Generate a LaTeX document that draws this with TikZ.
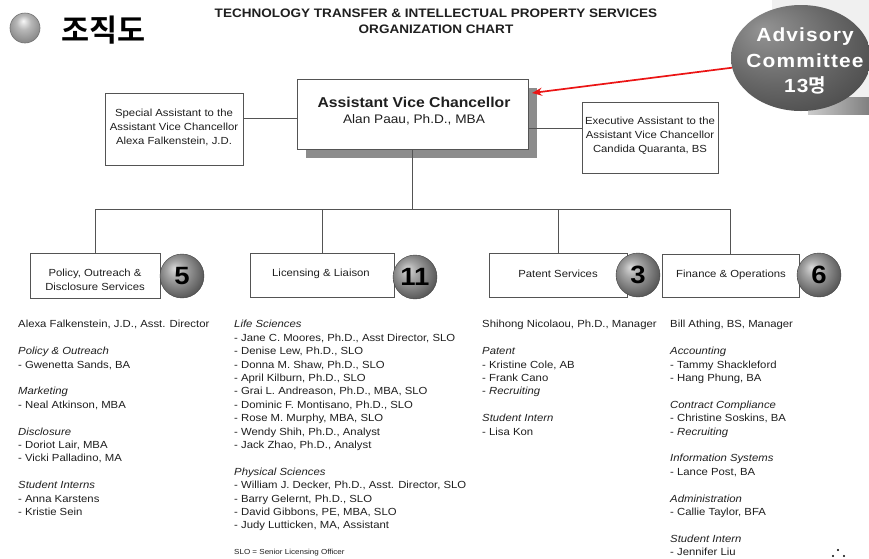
\documentclass[tikz,border=0pt]{standalone}
\usepackage{fontspec}
\setmainfont{Liberation Sans}[FakeStretch=1.1]
\newfontfamily\krfont{Noto Sans CJK KR}[BoldFont={Noto Sans CJK KR Bold}]
\usetikzlibrary{shapes.geometric,arrows.meta,shadows}
\definecolor{boxline}{gray}{0.33}
\definecolor{txt}{gray}{0.12}
\definecolor{arrred}{RGB}{235,20,20}
\pgfdeclareradialshading{advshade}{\pgfpoint{-14bp}{14bp}}{color(0bp)=(black!42); color(22bp)=(black!60); color(42bp)=(black!75); color(60bp)=(black!80)}
\pgfdeclareradialshading{sphshade}{\pgfpoint{-9bp}{9bp}}{color(0bp)=(black!15); color(10bp)=(black!35); color(28bp)=(black!64); color(42bp)=(black!80); color(50bp)=(black!85)}
\pgfdeclareradialshading{bulletshade}{\pgfpoint{-3bp}{12bp}}{color(0bp)=(black!3); color(12bp)=(black!28); color(30bp)=(black!48); color(42bp)=(black!62); color(50bp)=(black!70)}
\newcommand\bodyfnt{\fontsize{10.3}{13.4}\selectfont}
\newcommand\boxfnt{\fontsize{10.3}{14}\selectfont}
\newcommand\gap{\\[13.4pt]}
\begin{document}
\begin{tikzpicture}[x=1pt,y=-1pt,
  box/.style={draw=boxline, line width=0.9pt, fill=white, inner sep=0pt},
  conn/.style={draw=boxline, line width=0.9pt},
  lbl/.style={inner sep=0pt, align=center, font=\boxfnt, text=txt},
  num/.style={circle, minimum size=44pt, inner sep=0pt, shading=sphshade, draw=black!75, line width=0.4pt, font={\bfseries\fontsize{25}{25}\selectfont}, text=black},
  col/.style={anchor=north west, inner sep=0pt, align=left, font=\bodyfnt, text=txt},
  arrred/.style={draw=arrred, line width=1.7pt, -{Stealth[length=10pt,width=8pt]}}]
\useasboundingbox (0,0) rectangle (869,558);
\fill[white] (0,0) rectangle (869,558);

% heading
\node (bullet) [circle, minimum size=30pt, inner sep=0pt, shading=bulletshade, draw=black!55, line width=0.6pt] at (25,28) {};
\node (kr) [inner sep=0pt, font={\krfont\bfseries\fontsize{30.5}{34}\selectfont}, text=black] at (103.5,30) {조직도};
\node (hdr) [align=center, inner sep=0pt, font={\bfseries\fontsize{12.3}{16}\selectfont}, text=txt] at (436,21) {TECHNOLOGY TRANSFER \& INTELLECTUAL PROPERTY SERVICES\\ORGANIZATION CHART};

% advisory committee
\fill[black!6] (772,0) rectangle (869,97);
\shade[left color=black!20, right color=black!50] (808,97) rectangle (869,114);
\node (adv) [ellipse, minimum width=140pt, minimum height=106pt, inner sep=0pt, shading=advshade] at (801,58) {};
\node (advt) [inner sep=0pt, align=center, text=white, font={\bfseries\fontsize{19}{25.5}\selectfont\addfontfeature{LetterSpace=6}}] at (805,61) {Advisory\\Committee\\13{\krfont\bfseries 명}};

% top level
\node (avc) [box, minimum width=231pt, minimum height=70pt, drop shadow={shadow xshift=9pt, shadow yshift=-9pt, fill=black!45, opacity=1}] at (412.5,114) {};
\node (avct1) [inner sep=0pt, anchor=base, font={\bfseries\fontsize{14.3}{17}\selectfont}, text=txt] at (414,107) {Assistant Vice Chancellor};
\node (avct2) [inner sep=0pt, anchor=base, font={\fontsize{12.4}{17}\selectfont}, text=txt] at (414,123.5) {Alan Paau, Ph.D., MBA};

\node (spec) [box, minimum width=138pt, minimum height=72pt] at (174,129) {};
\node (spect) [lbl] at (174,127) {Special Assistant to the\\Assistant Vice Chancellor\\Alexa Falkenstein, J.D.};
\node (exec) [box, minimum width=136pt, minimum height=71pt] at (650,137.5) {};
\node (exect) [lbl] at (650,136) {Executive Assistant to the\\Assistant Vice Chancellor\\Candida Quaranta, BS};

\coordinate (sl) at ([yshift=11pt]spec.east);
\draw[conn] (sl) -- (sl -| avc.west);
\coordinate (er) at ([yshift=9.5pt]exec.west);
\draw[conn] (er) -- (er -| avc.east);

% departments
\node (pol) [box, minimum width=130pt, minimum height=45pt] at (95,275.5) {};
\node (polt) [lbl] at (95,280) {Policy, Outreach \&\\Disclosure Services};
\node (lic) [box, minimum width=144pt, minimum height=44pt] at (322,275) {};
\node (lict) [lbl] at (321,274) {Licensing \& Liaison};
\node (pat) [box, minimum width=138pt, minimum height=44pt] at (558,275) {};
\node (patt) [lbl] at (558,274) {Patent Services};
\node (fin) [box, minimum width=137pt, minimum height=43pt] at (730.5,275.5) {};
\node (fint) [lbl] at (731,275) {Finance \& Operations};

\coordinate (busy) at (0,209);
\draw[conn] (avc.south) -- (avc.south |- busy);
\draw[conn] (pol.north |- busy) -- (fin.north |- busy);
\foreach \d in {pol,lic,pat,fin} \draw[conn] (\d.north) -- (\d.north |- busy);

\node (n5) [num] at (182,276) {5};
\node (n11) [num] at (415,277) {11};
\node (n3) [num] at (638,275) {3};
\node (n6) [num] at (819,275) {6};

% red arrow
\coordinate (tip) at (532,93);
\draw[arrred] (adv.188) -- (tip);

% staff lists
\node (c1) [col] at (18,318.3) {\strut Alexa Falkenstein, J.D., Asst. Director\gap
\textit{Policy \& Outreach}\\
- Gwenetta Sands, BA\gap
\textit{Marketing}\\
- Neal Atkinson, MBA\gap
\textit{Disclosure}\\
- Doriot Lair, MBA\\
- Vicki Palladino, MA\gap
\textit{Student Interns}\\
- Anna Karstens\\
- Kristie Sein};

\node (c2) [col] at (234,318.3) {\strut\textit{Life Sciences}\\
- Jane C. Moores, Ph.D., Asst Director, SLO\\
- Denise Lew, Ph.D., SLO\\
- Donna M. Shaw, Ph.D., SLO\\
- April Kilburn, Ph.D., SLO\\
- Grai L. Andreason, Ph.D., MBA, SLO\\
- Dominic F. Montisano, Ph.D., SLO\\
- Rose M. Murphy, MBA, SLO\\
- Wendy Shih, Ph.D., Analyst\\
- Jack Zhao, Ph.D., Analyst\gap
\textit{Physical Sciences}\\
- William J. Decker, Ph.D., Asst. Director, SLO\\
- Barry Gelernt, Ph.D., SLO\\
- David Gibbons, PE, MBA, SLO\\
- Judy Lutticken, MA, Assistant};
\node (slo) [anchor=base west, inner sep=0pt, font={\fontsize{7.3}{9}\selectfont}, text=txt] at (234,554) {SLO = Senior Licensing Officer};

\node (c3) [col] at (482,318.3) {\strut Shihong Nicolaou, Ph.D., Manager\gap
\textit{Patent}\\
- Kristine Cole, AB\\
- Frank Cano\\
- \textit{Recruiting}\gap
\textit{Student Intern}\\
- Lisa Kon};

\node (c4) [col] at (670,318.3) {\strut Bill Athing, BS, Manager\gap
\textit{Accounting}\\
- Tammy Shackleford\\
- Hang Phung, BA\gap
\textit{Contract Compliance}\\
- Christine Soskins, BA\\
- \textit{Recruiting}\gap
\textit{Information Systems}\\
- Lance Post, BA\gap
\textit{Administration}\\
- Callie Taylor, BFA\gap
\textit{Student Intern}\\
- Jennifer Liu};

% decorative dots
\fill[black] (838,550) circle (1.1pt) (833,556) circle (1.1pt) (844,556) circle (1.1pt);
\end{tikzpicture}
\end{document}
